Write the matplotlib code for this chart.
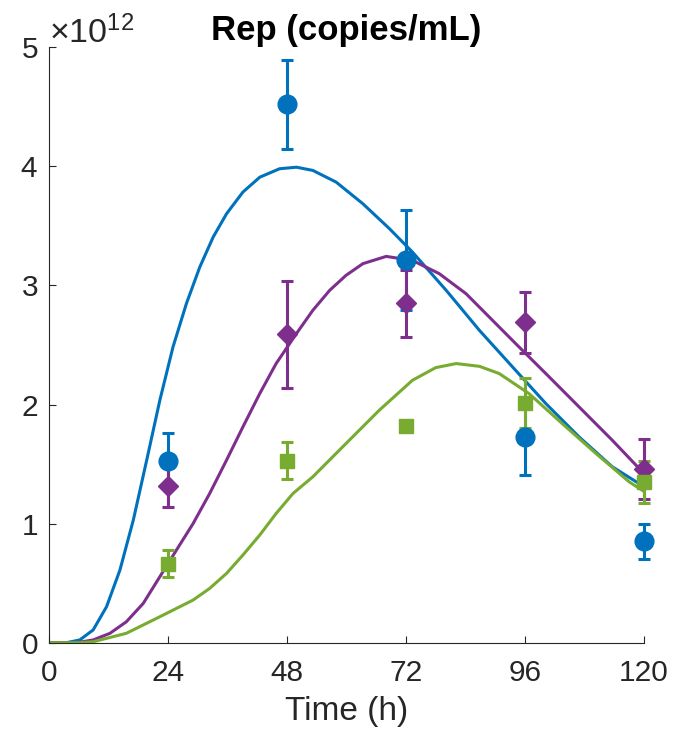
import numpy as np
import matplotlib
matplotlib.use("Agg")
import matplotlib.pyplot as plt
from matplotlib.ticker import ScalarFormatter

plt.rcParams['font.family'] = ['Liberation Sans', 'DejaVu Sans']
plt.rcParams['mathtext.fontset'] = 'custom'
plt.rcParams['mathtext.rm'] = 'Liberation Sans'
plt.rcParams['mathtext.it'] = 'Liberation Sans'

SCALE = 1e12

# Measured replicon levels (x1e12 copies/mL) with error bars
t_obs = [24, 48, 72, 96, 120]
blue_obs = [1.53, 4.52, 3.21, 1.73, 0.85]
blue_err = [0.23, 0.37, 0.42, 0.32, 0.145]
purple_obs = [1.32, 2.59, 2.85, 2.69, 1.46]
purple_err = [0.18, 0.45, 0.28, 0.255, 0.25]
green_obs = [0.665, 1.53, 1.82, 2.01, 1.35]
green_err = [0.115, 0.157, 0.04, 0.21, 0.175]

# Model curves (x1e12 copies/mL)
t_blue = [0, 3.5, 6.2, 8.9, 11.6, 14.3, 17.0, 19.7, 22.35, 25.0, 27.7, 30.4,
          33.1, 35.8, 39.1, 42.5, 46.5, 49.9, 53.2, 57.9, 63.3, 68.65, 73.3,
          80.1, 86.8, 93.5, 100.2, 106.9, 113.6, 120]
y_blue = [0, 0.0, 0.023, 0.107, 0.302, 0.61, 1.03, 1.533, 2.036, 2.483, 2.847,
          3.154, 3.406, 3.602, 3.784, 3.909, 3.98, 3.993, 3.966, 3.868, 3.686,
          3.477, 3.28, 2.959, 2.623, 2.315, 2.008, 1.728, 1.477, 1.31]
t_purple = [0, 5.5, 8.9, 12.3, 15.6, 19.0, 22.35, 25.7, 29.05, 32.4, 35.8,
            39.1, 42.5, 45.8, 49.9, 53.2, 56.6, 59.9, 63.3, 68.0, 73.3, 78.7,
            84.1, 89.45, 94.8, 100.2, 106.9, 113.6, 120]
y_purple = [0, 0.0, 0.023, 0.079, 0.176, 0.33, 0.554, 0.778, 1.0, 1.253,
            1.533, 1.812, 2.092, 2.344, 2.596, 2.791, 2.959, 3.085, 3.183,
            3.244, 3.21, 3.099, 2.931, 2.707, 2.483, 2.26, 1.98, 1.70, 1.42]
t_green = [0, 6.0, 8.9, 15.6, 22.35, 29.05, 32.4, 35.8, 39.1, 42.5, 45.8,
           49.2, 53.2, 59.9, 66.6, 73.3, 78.0, 82.1, 86.8, 90.8, 96.8, 103.5,
           110.3, 117.0, 120]
y_green = [0, 0.0, 0.008, 0.079, 0.218, 0.358, 0.456, 0.582, 0.736, 0.904,
           1.085, 1.253, 1.393, 1.673, 1.952, 2.204, 2.31, 2.344, 2.321, 2.26,
           2.092, 1.84, 1.589, 1.351, 1.27]

x_ticks = [0, 24, 48, 72, 96, 120]
y_ticks = [0, 1, 2, 3, 4, 5]

c_blue = '#0072BD'
c_purple = '#7E2F8E'
c_green = '#77AC30'
axis_col = '#262626'

fig = plt.figure(figsize=(6.79, 7.32), dpi=100)
ax = fig.add_axes([0.0722, 0.122, 0.8763, 0.8134])

sc = lambda v: np.asarray(v) * SCALE

lw = 2.2
ax.plot(t_blue, sc(y_blue), color=c_blue, lw=lw)
ax.plot(t_purple, sc(y_purple), color=c_purple, lw=lw)
ax.plot(t_green, sc(y_green), color=c_green, lw=lw)

eb = dict(elinewidth=2.2, capthick=2.2, capsize=4.3, ls='none')
series = [(blue_obs, blue_err, 'o', c_blue, 13.5),
          (purple_obs, purple_err, 'D', c_purple, 10),
          (green_obs, green_err, 's', c_green, 10.5)]
for obs, err, mk, col, ms in series:
    cont = ax.errorbar(t_obs, sc(obs), yerr=sc(err), fmt=mk, color=col,
                       ms=ms, **eb)
    for art in cont.get_children():
        art.set_clip_on(False)

ax.set_xlim(0, 120)
ax.set_ylim(0, 5 * SCALE)
ax.set_xticks(x_ticks)
ax.set_yticks(sc(y_ticks))

fmt = ScalarFormatter(useMathText=True)
fmt.set_powerlimits((12, 12))
ax.yaxis.set_major_formatter(fmt)
ax.yaxis.get_offset_text().set_fontsize(24.5)
ax.yaxis.get_offset_text().set_color(axis_col)

for s in ['top', 'right']:
    ax.spines[s].set_visible(False)
for s in ['left', 'bottom']:
    ax.spines[s].set_color(axis_col)
    ax.spines[s].set_linewidth(0.8)

ax.tick_params(axis='both', direction='in', length=5, width=0.8,
               colors=axis_col, labelsize=21.5)
ax.tick_params(axis='x', pad=12)
ax.tick_params(axis='y', pad=8)

ax.set_xlabel('Time (h)', fontsize=24, color=axis_col, labelpad=6)
ax.set_title('Rep (copies/mL)', fontsize=25, fontweight='bold', pad=5)

fig.savefig('out.png', dpi=100)
